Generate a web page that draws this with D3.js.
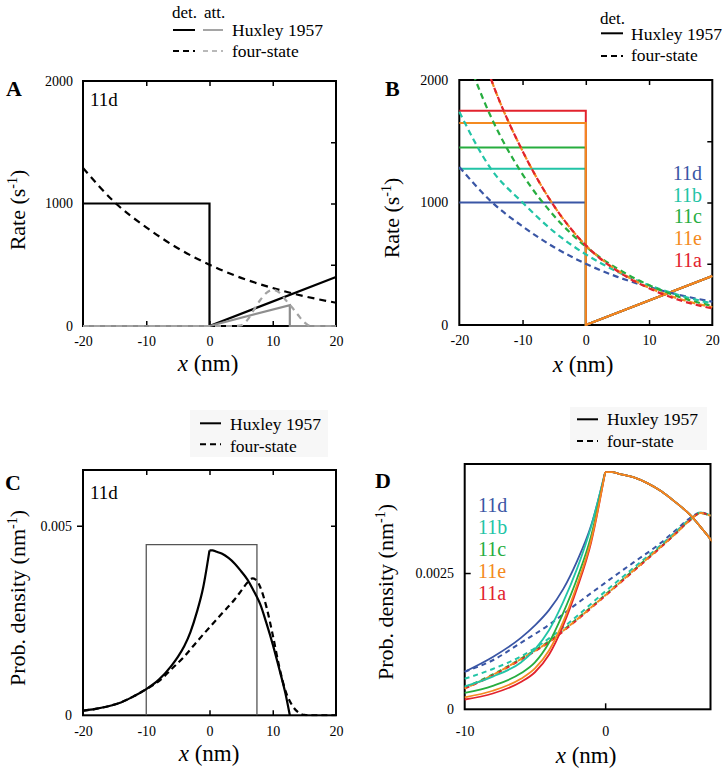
<!DOCTYPE html>
<html><head><meta charset="utf-8">
<script src="https://cdn.jsdelivr.net/npm/d3@7"></script>
<style>body{margin:0;background:#fff}svg{display:block}</style>
</head><body>
<svg id="chart" width="723" height="772"></svg>
<script>
// ---------------- DATA ----------------
const seriesNames = ["11d", "11b", "11c", "11e", "11a"];
const seriesColors = ["#3a56a5", "#22c4a6", "#27ad3f", "#f48a20", "#e2232d"];

// Panel A: rates (s^-1) for 11d
const xA_detHux = [-20, 0, 0, 20];
const rateA_detHux = [1000, 1000, 0, 400];
const xA_attHux = [-20, 0, 12.7, 12.7, 20];
const rateA_attHux = [0, 0, 170, 0, 0];
const xRateFour = [-20, -15, -10, -5, 0, 5, 10, 15, 20];
const rateA_detFour = [1290, 1010, 805, 635, 500, 393, 310, 243, 190];
const xA_attFour = [-20, 4, 5, 6, 7, 8, 9, 10, 11, 12, 13, 14, 15, 16, 20];
const rateA_attFour = [0, 0, 5, 50, 130, 210, 270, 295, 275, 215, 155, 90, 30, 0, 0];

// Panel B: detachment rates per series
const xB_detHux = [-20, 0, 0, 20];
const rateB_hux11d = [1000, 1000, 0, 400];
const rateB_hux11b = [1275, 1275, 0, 400];
const rateB_hux11c = [1450, 1450, 0, 400];
const rateB_hux11e = [1650, 1650, 0, 400];
const rateB_hux11a = [1750, 1750, 0, 400];
const rateB_four11d = [1290, 1010, 805, 635, 500, 393, 310, 243, 190];
const rateB_four11b = [1740, 1275, 1000, 760, 577, 435, 325, 240, 175];
const rateB_four11c = [2350, 1700, 1230, 890, 640, 460, 325, 225, 155];
const rateB_four11e = [2850, 2010, 1420, 970, 650, 445, 305, 210, 145];
const rateB_four11a = [2850, 2010, 1420, 970, 650, 440, 300, 200, 135];

// Panel C: probability density (nm^-1) for 11d
const xC_huxLeft = [-20, -18, -16, -14, -12, -10, -8, -6, -5, -4, -3, -2, -1, 0];
const densC_huxLeft = [0.00012, 0.00017, 0.00024, 0.00034, 0.0005, 0.00069, 0.00094, 0.00131, 0.00154, 0.00182, 0.0022, 0.00272, 0.00337, 0.00435];
const xC_huxRight = [0, 0.5, 1, 2, 3, 4, 5, 6, 7, 7.5, 8, 9, 10, 11, 12, 12.7];
const densC_huxRight = [0.00435, 0.00435, 0.00432, 0.00426, 0.00415, 0.004, 0.0038, 0.00358, 0.00328, 0.00312, 0.00294, 0.00243, 0.00187, 0.00124, 0.00058, 0];
const xC_four = [-20, -18, -16, -14, -12, -10, -8, -6, -4, -2, 0, 2, 4, 5, 6, 6.8, 7.5, 8, 9, 10, 11, 12, 13, 14, 15, 16, 20];
const densC_four = [0.00012, 0.00017, 0.00024, 0.00034, 0.0005, 0.00069, 0.0009, 0.00122, 0.00155, 0.00194, 0.00232, 0.00269, 0.00306, 0.00328, 0.0035, 0.00361, 0.00355, 0.00339, 0.00286, 0.00212, 0.0013, 0.00065, 0.00028, 0.00008, 0.00001, 0, 0];
const boxC_x = [-10, -10, 7.5, 7.5];
const boxC_y = [0, 0.0045, 0.0045, 0];

// Panel D: zoom of the box, per series
const xD_left = [-10, -8, -6, -5, -4, -3, -2, -1, 0];
const densD_hux11d = [0.00069, 0.00096, 0.00131, 0.00154, 0.00182, 0.0022, 0.00272, 0.00337, 0.00435];
const densD_hux11b = [0.00042, 0.0006, 0.00086, 0.0011, 0.00145, 0.00196, 0.00258, 0.00335, 0.00435];
const densD_hux11c = [0.0003, 0.00043, 0.00066, 0.00086, 0.00122, 0.00176, 0.0024, 0.00318, 0.00435];
const densD_hux11e = [0.00022, 0.00034, 0.00056, 0.00075, 0.00108, 0.0016, 0.00228, 0.0031, 0.00435];
const densD_hux11a = [0.00018, 0.00029, 0.0005, 0.00068, 0.001, 0.00153, 0.00222, 0.00306, 0.00435];
const xD_four = [-10, -8, -6, -4, -2, 0, 2, 4, 5, 6, 6.8, 7.5];
const densD_four11d = [0.00069, 0.0009, 0.00122, 0.00155, 0.00194, 0.00232, 0.00269, 0.00306, 0.00328, 0.0035, 0.00361, 0.00355];
const densD_four11b = [0.00056, 0.00074, 0.00097, 0.0013, 0.00171, 0.00216, 0.00259, 0.00302, 0.00325, 0.00348, 0.00361, 0.00355];
const densD_four11c = [0.0004, 0.00064, 0.00093, 0.00125, 0.00166, 0.0021, 0.00255, 0.00299, 0.00322, 0.00346, 0.0036, 0.00355];
const densD_four11e = [0.00038, 0.00063, 0.00092, 0.00124, 0.00165, 0.00209, 0.00254, 0.00299, 0.00322, 0.00346, 0.0036, 0.00355];
const densD_four11a = [0.00038, 0.00062, 0.00091, 0.00123, 0.00164, 0.00208, 0.00253, 0.00298, 0.00322, 0.00346, 0.0036, 0.00355];

// Ticks
const xTicks40 = [-20, -10, 0, 10, 20];
const xTickLabels40 = ["-20", "-10", "0", "10", "20"];
const yTicksRate = [0, 1000, 2000];
const yTickLabelsRate = ["0", "1000", "2000"];
const yTicksC = [0, 0.005];
const yTickLabelsC = ["0", "0.005"];
const xTicksD = [-10, 0];
const xTickLabelsD = ["-10", "0"];
const yTicksD = [0, 0.0025];
const yTickLabelsD = ["0", "0.0025"];

// ---------------- DRAWING ----------------
const svg = d3.select("#chart");
const SERIF = '"Liberation Serif","Times New Roman",Times,serif';

function panel(L, xDomain, yDomain) {
  const x = d3.scaleLinear().domain(xDomain).range([L.left, L.right]);
  const y = d3.scaleLinear().domain(yDomain).range([L.bottom, L.top]);
  const id = "clip" + L.name;
  svg.append("clipPath").attr("id", id).append("rect")
    .attr("x", L.left - 1).attr("y", L.top - 1)
    .attr("width", L.right - L.left + 2).attr("height", L.bottom - L.top + 2);
  const g = svg.append("g");
  g.append("rect").attr("x", L.left).attr("y", L.top)
    .attr("width", L.right - L.left).attr("height", L.bottom - L.top)
    .attr("fill", "none").attr("stroke", "#000").attr("stroke-width", 2);
  const data = svg.append("g").attr("clip-path", `url(#${id})`);
  return { x, y, g, data, L };
}

function labels(P, xVals, xLabs, xPad, yVals, yLabs, yPad) {
  P.g.append("g").attr("transform", `translate(0,${P.L.bottom})`)
    .call(d3.axisBottom(P.x).tickValues(xVals).tickFormat((d, i) => xLabs[i]).tickSize(0).tickPadding(xPad))
    .call(a => a.select(".domain").remove())
    .selectAll("text").attr("font-family", SERIF).attr("font-size", 14).attr("fill", "#000");
  P.g.append("g").attr("transform", `translate(${P.L.left},0)`)
    .call(d3.axisLeft(P.y).tickValues(yVals).tickFormat((d, i) => yLabs[i]).tickSize(0).tickPadding(yPad))
    .call(a => a.select(".domain").remove())
    .selectAll("text").attr("font-family", SERIF).attr("font-size", 14).attr("fill", "#000");
}

function ticks(P, side, vals, size) {
  let ax, tr;
  if (side === "bottom") { ax = d3.axisBottom(P.x); tr = `translate(0,${P.L.bottom})`; }
  if (side === "top") { ax = d3.axisTop(P.x); tr = `translate(0,${P.L.top})`; }
  if (side === "right") { ax = d3.axisRight(P.y); tr = `translate(${P.L.right},0)`; }
  if (side === "left") { ax = d3.axisLeft(P.y); tr = `translate(${P.L.left},0)`; }
  P.g.append("g").attr("transform", tr)
    .call(ax.tickValues(vals).tickSize(size).tickFormat(""))
    .call(a => a.select(".domain").remove())
    .selectAll("line").attr("stroke", "#000").attr("stroke-width", 1.5);
}

function line(P, xs, ys, color, opt = {}) {
  const pts = xs.map((v, i) => [v, ys[i]]);
  const gen = d3.line().x(d => P.x(d[0])).y(d => P.y(d[1])).curve(opt.curve || d3.curveLinear);
  (opt.layer || P.data).append("path").attr("d", gen(pts))
    .attr("fill", "none").attr("stroke", color)
    .attr("stroke-width", opt.width || 2)
    .attr("stroke-dasharray", opt.dash || null)
    .attr("stroke-dashoffset", opt.offset || 0)
    .attr("stroke-linejoin", "miter");
}

function text(x, y, s, size, opt = {}) {
  return svg.append("text").attr("x", x).attr("y", y).text(s)
    .attr("font-family", SERIF).attr("font-size", size)
    .attr("font-weight", opt.bold ? "bold" : "normal")
    .attr("text-anchor", opt.anchor || "start")
    .attr("fill", opt.color || "#000");
}

function xLabel(cx, by) {
  const t = svg.append("text").attr("x", cx).attr("y", by).attr("text-anchor", "middle")
    .attr("font-family", SERIF).attr("font-size", 23);
  t.append("tspan").attr("font-style", "italic").text("x");
  t.append("tspan").text(" (nm)");
}

function yLabel(bx, cy, main, unit) {
  const t = svg.append("text").attr("transform", `translate(${bx},${cy}) rotate(-90)`)
    .attr("text-anchor", "middle").attr("font-family", SERIF).attr("font-size", 22);
  t.append("tspan").text(main + " (" + unit);
  t.append("tspan").attr("dy", -8).attr("font-size", 14).text("-1");
  t.append("tspan").attr("dy", 8).text(")");
}

const curve = d3.curveMonotoneX;

// ----- Panel A -----
const A = panel({ name: "A", left: 83, right: 336, top: 81, bottom: 326 }, [-20, 20], [0, 2000]);
labels(A, xTicks40, xTickLabels40, 10, yTicksRate, yTickLabelsRate, 10);
ticks(A, "bottom", [-10, 0, 10], -5);
ticks(A, "top", [-10, 0, 10], -5);
ticks(A, "right", [500, 1000, 1500], -5);
line(A, xA_detHux, rateA_detHux, "#000", { width: 2.2 });
line(A, xRateFour, rateA_detFour, "#000", { width: 2.2, dash: "7,5", curve });
line(A, xA_attHux, rateA_attHux, "#8e8e8e", { width: 2.2 });
line(A, xA_attFour, rateA_attFour, "#a3a3a3", { width: 2.2, dash: "6,5", curve });
text(6, 96, "A", 22, { bold: true });
text(90, 106, "11d", 19);
xLabel(208, 370.5);
yLabel(25, 210, "Rate", "s");
// legend A
text(172, 18, "det.", 17);
text(204, 18, "att.", 17);
svg.append("line").attr("x1", 173).attr("x2", 195).attr("y1", 30).attr("y2", 30).attr("stroke", "#000").attr("stroke-width", 2);
svg.append("line").attr("x1", 203).attr("x2", 223).attr("y1", 30).attr("y2", 30).attr("stroke", "#8e8e8e").attr("stroke-width", 1.6);
svg.append("line").attr("x1", 173).attr("x2", 195).attr("y1", 51).attr("y2", 51).attr("stroke", "#000").attr("stroke-width", 2).attr("stroke-dasharray", "6,4");
svg.append("line").attr("x1", 203).attr("x2", 223).attr("y1", 51).attr("y2", 51).attr("stroke", "#a3a3a3").attr("stroke-width", 1.6).attr("stroke-dasharray", "5,4");
text(232, 36, "Huxley 1957", 17.5);
text(232, 57, "four-state", 17.5);

// ----- Panel B -----
const B = panel({ name: "B", left: 459.3, right: 712.3, top: 80, bottom: 325 }, [-20, 20], [0, 2000]);
labels(B, xTicks40, xTickLabels40, 10, yTicksRate, yTickLabelsRate, 11);
ticks(B, "bottom", [-10, 0, 10], -5);
ticks(B, "top", [-10, 0, 10], -5);
ticks(B, "right", [500, 1000, 1500], -5);
const hB = { "11d": rateB_hux11d, "11b": rateB_hux11b, "11c": rateB_hux11c, "11e": rateB_hux11e, "11a": rateB_hux11a };
const fB = { "11d": rateB_four11d, "11b": rateB_four11b, "11c": rateB_four11c, "11e": rateB_four11e, "11a": rateB_four11a };
const col = n => seriesColors[seriesNames.indexOf(n)];
["11d", "11b", "11c", "11a", "11e"].forEach(n => line(B, xB_detHux, hB[n], col(n), { width: 2 }));
["11d", "11b", "11c", "11e", "11a"].forEach((n, i) => line(B, xRateFour, fB[n], col(n), { width: 2.2, dash: "6,4", offset: n === "11a" ? 3 : 0, curve }));
text(385, 96, "B", 22, { bold: true });
seriesNames.forEach((n, i) => text(702, 180 + i * 21.7, n, 20, { anchor: "end", color: seriesColors[i] }));
xLabel(583, 372);
yLabel(399, 218, "Rate", "s");
text(600, 24, "det.", 17);
svg.append("line").attr("x1", 601).attr("x2", 623).attr("y1", 33.3).attr("y2", 33.3).attr("stroke", "#000").attr("stroke-width", 2);
svg.append("line").attr("x1", 601).attr("x2", 623).attr("y1", 56).attr("y2", 56).attr("stroke", "#000").attr("stroke-width", 2).attr("stroke-dasharray", "6,4");
text(631, 39.5, "Huxley 1957", 17.5);
text(631, 61, "four-state", 17.5);

// ----- Panel C -----
const C = panel({ name: "C", left: 83, right: 336, top: 470, bottom: 715.3 }, [-20, 20], [0, 0.00647]);
labels(C, xTicks40, xTickLabels40, 10.5, yTicksC, yTickLabelsC, 11);
ticks(C, "bottom", [0, 10], -5);
ticks(C, "top", [-10, 0, 10], -5);
ticks(C, "right", [0.005], -5);
ticks(C, "left", [0.005], 6);
line(C, boxC_x, boxC_y, "#555", { width: 1.3 });
line(C, xC_four, densC_four, "#000", { width: 2.2, dash: "6,4", curve });
line(C, xC_huxLeft, densC_huxLeft, "#000", { width: 2.2, curve });
line(C, xC_huxRight, densC_huxRight, "#000", { width: 2.2, curve });
text(5, 490, "C", 22, { bold: true });
text(90, 499, "11d", 19);
xLabel(209, 761);
yLabel(25, 598, "Prob. density", "nm");
svg.append("rect").attr("x", 190).attr("y", 410).attr("width", 138).attr("height", 47).attr("fill", "#f7f7f7");
svg.append("line").attr("x1", 200).attr("x2", 221).attr("y1", 423.3).attr("y2", 423.3).attr("stroke", "#000").attr("stroke-width", 2);
svg.append("line").attr("x1", 200).attr("x2", 221).attr("y1", 444.3).attr("y2", 444.3).attr("stroke", "#000").attr("stroke-width", 2).attr("stroke-dasharray", "6,4");
text(230, 429.5, "Huxley 1957", 17.5);
text(230, 451.5, "four-state", 17.5);

// ----- Panel D -----
const D = panel({ name: "D", left: 464.7, right: 710.5, top: 464, bottom: 709.3 }, [-10, 7.5], [0, 0.0045]);
labels(D, xTicksD, xTickLabelsD, 16.5, yTicksD, yTickLabelsD, 10.7);
ticks(D, "bottom", [0], -6);
ticks(D, "left", [0.0025], -6);
const hD = { "11d": densD_hux11d, "11b": densD_hux11b, "11c": densD_hux11c, "11e": densD_hux11e, "11a": densD_hux11a };
const fD = { "11d": densD_four11d, "11b": densD_four11b, "11c": densD_four11c, "11e": densD_four11e, "11a": densD_four11a };
["11d", "11b", "11c", "11a", "11e"].forEach(n => line(D, xD_four, fD[n], col(n), { width: 2, dash: "5,4", offset: n === "11e" ? 3 : 0, curve }));
["11d", "11b", "11c", "11a", "11e"].forEach(n => {
  line(D, xD_left, hD[n], col(n), { width: 1.8, curve });
  line(D, xC_huxRight, densC_huxRight, col(n), { width: 1.8, curve });
});
text(375, 488, "D", 22, { bold: true });
seriesNames.forEach((n, i) => text(478, 512 + i * 22, n, 20, { color: seriesColors[i] }));
xLabel(586, 763);
yLabel(393, 592, "Prob. density", "nm");
svg.append("rect").attr("x", 570).attr("y", 407).attr("width", 137).attr("height", 43).attr("fill", "#f7f7f7");
svg.append("line").attr("x1", 577).attr("x2", 598).attr("y1", 419.3).attr("y2", 419.3).attr("stroke", "#000").attr("stroke-width", 2);
svg.append("line").attr("x1", 577).attr("x2", 598).attr("y1", 441).attr("y2", 441).attr("stroke", "#000").attr("stroke-width", 2).attr("stroke-dasharray", "6,4");
text(607, 425, "Huxley 1957", 17.5);
text(607, 447, "four-state", 17.5);
</script>
</body></html>
